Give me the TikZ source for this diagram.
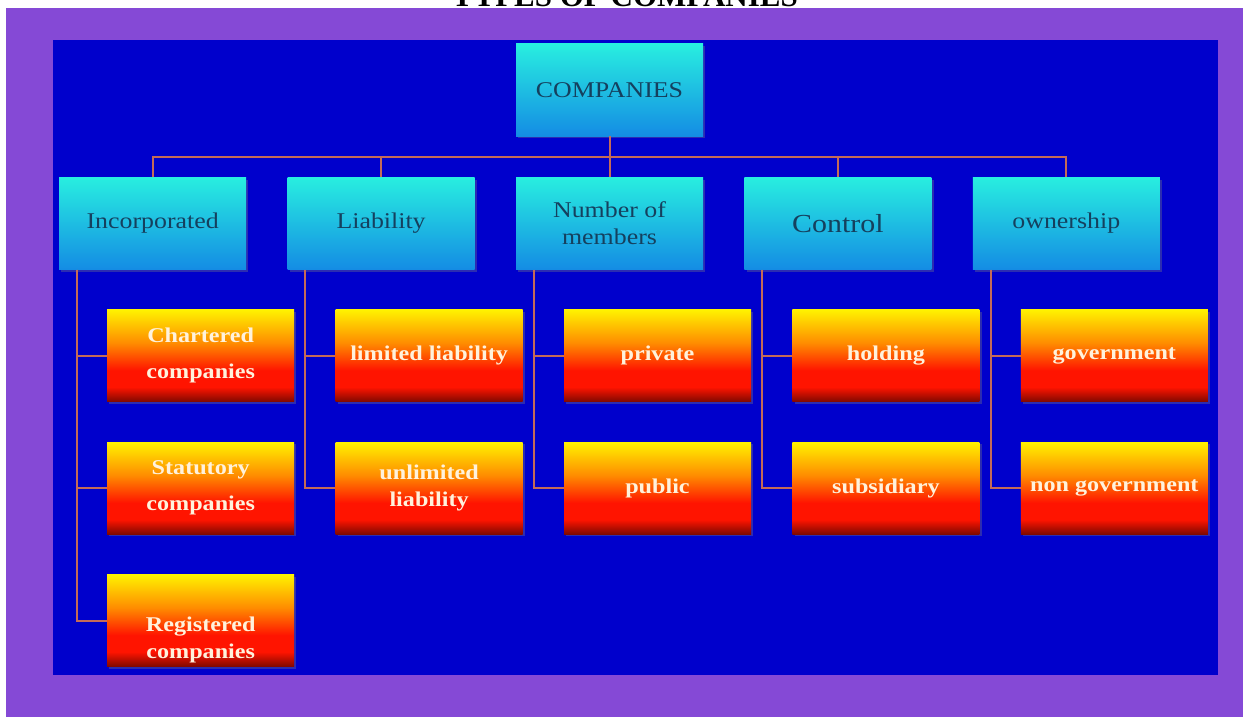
\documentclass[tikz,border=0pt]{standalone}
\usepackage{xcolor}
\usepackage{fontspec}
\setmainfont{Liberation Serif}
\newfontfamily\boxfont[FakeStretch=1.15]{Liberation Serif}
\usepackage{tikz}
\usetikzlibrary{positioning, shadows, calc}
\definecolor{SlidePurple}{HTML}{8549D6}
\definecolor{SlideBlue}{HTML}{0000CC}
\definecolor{HeadTop}{HTML}{28EEE0}
\definecolor{HeadBottom}{HTML}{148CE4}
\definecolor{HeadText}{HTML}{15405E}
\definecolor{LeafYellow}{HTML}{FFF200}
\definecolor{LeafOrange}{HTML}{FF8C00}
\definecolor{LeafRed}{HTML}{FF1400}
\definecolor{LeafDark}{HTML}{7E0800}
\definecolor{LeafText}{HTML}{FFF2DC}
\definecolor{LinkBrown}{HTML}{C46A58}
\pgfdeclareverticalshading{leafshade}{100bp}{color(0bp)=(LeafDark); color(25bp)=(LeafDark); color(33bp)=(LeafRed); color(42bp)=(LeafRed); color(57bp)=(LeafOrange); color(75bp)=(LeafYellow); color(100bp)=(LeafYellow)}

\begin{document}
\begin{tikzpicture}[x=1pt, y=-1pt, node distance=41pt]
      \tikzset{
        head/.style={rectangle, top color=HeadTop, bottom color=HeadBottom, minimum width=187pt, minimum height=92pt, inner sep=0pt, align=center, text=HeadText, font=\boxfont\fontsize{22.5}{27}\selectfont, drop shadow={opacity=0.35}},
        leaf/.style={rectangle, shading=leafshade, minimum width=187pt, minimum height=92pt, inner sep=0pt, align=center, text=LeafText, font=\boxfont\bfseries\fontsize{21}{27}\selectfont, drop shadow={opacity=0.35}},
        link/.style={line width=2pt, draw=LinkBrown}
      }
      \useasboundingbox (0,0) rectangle (1243,717);
      \fill[white] (0,0) rectangle (1243,717);
      \fill[SlidePurple] (6,8) rectangle (1243,717);
      \fill[SlideBlue] (53,40) rectangle (1218,675);
      \node[font=\bfseries\fontsize{31}{33}\selectfont, anchor=base] (title) at (625,7) {TYPES OF COMPANIES};

      % top level and the five kinds
      \node[head] (comp) at (609.5,90) {COMPANIES};
      \node[head, below=41pt of comp] (members) {Number of\\members};
      \node[head, left=41pt of members] (liab) {Liability};
      \node[head, left=41pt of liab] (inc) {Incorporated};
      \node[head, right=41pt of members] (ctrl) {\fontsize{26}{30}\selectfont Control};
      \node[head, right=41pt of ctrl] (own) {ownership};

      % sub types
      \node[leaf, below right=40pt and 48pt of inc.south west] (chartered) {Chartered\\[9pt]companies};
      \node[leaf, below=40pt of chartered] (statutory) {Statutory\\[9pt]companies};
      \node[leaf, below=40pt of statutory] (registered) {\vphantom{X}\\[13pt]Registered\\companies};
      \node[leaf, below right=40pt and 48pt of liab.south west] (limited) {limited liability};
      \node[leaf, below=40pt of limited] (unlimited) {unlimited\\liability};
      \node[leaf, below right=40pt and 48pt of members.south west] (private) {private};
      \node[leaf, below=40pt of private] (public) {public};
      \node[leaf, below right=40pt and 48pt of ctrl.south west] (holding) {holding};
      \node[leaf, below=40pt of holding] (subsidiary) {subsidiary};
      \node[leaf, below right=40pt and 48pt of own.south west] (government) {government};
      \node[leaf, below=40pt of government] (nongov) {non government};

      \coordinate (bus) at ($(comp.south)!0.5!(members.north)$);
      \draw[link] (comp.south) -- (members.north);
      \draw[link] (inc.north) |- (bus) -| (own.north);
      \draw[link] (liab.north) |- (bus);
      \draw[link] (ctrl.north) |- (bus);

      \foreach \h/\first/\last in {inc/chartered/registered, liab/limited/unlimited, members/private/public, ctrl/holding/subsidiary, own/government/nongov} {
        \draw[link] ($(\h.south west)+(18,0)$) |- (\last.west);
        \draw[link] ($(\h.south west)+(18,0)$) |- (\first.west);
      }
      \draw[link] ($(inc.south west)+(18,0)$) |- (statutory.west);
    \end{tikzpicture}
\end{document}
